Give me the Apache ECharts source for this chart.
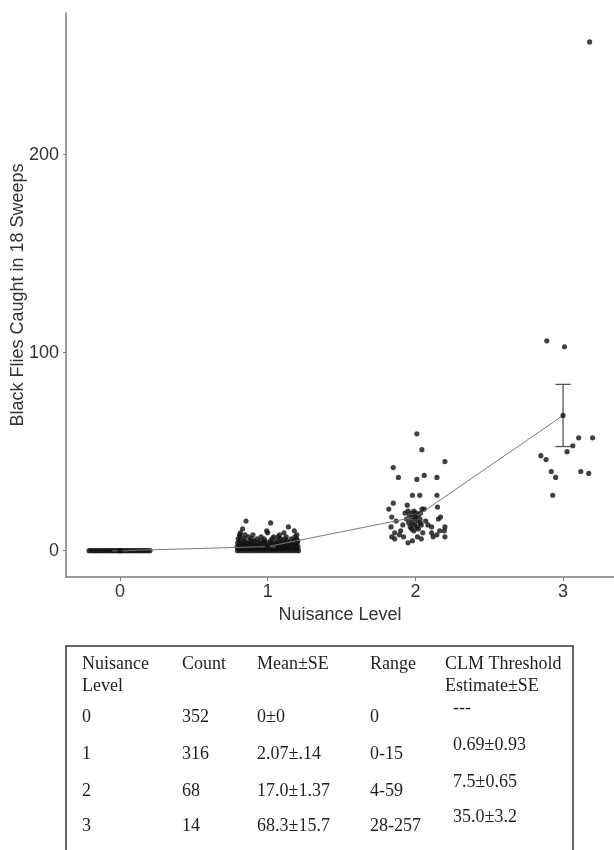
<!DOCTYPE html>
<html><head><meta charset="utf-8">
<script src="https://cdn.jsdelivr.net/npm/echarts@6/dist/echarts.min.js"></script>
<style>html,body{margin:0;padding:0;background:#fff}#c{width:614px;height:850px}</style>
</head><body><div id="c"></div>
<script>
// ---------- data ----------
const levels = [0, 1, 2, 3];
const levelMeans = [0, 2.07, 17.0, 68.3];
const levelSE = [0, 0.14, 1.37, 15.7];
const xTicks = [0, 1, 2, 3];
const yTicks = [0, 100, 200];

// jittered observations: [horizontal jitter, flies caught]
const level0Points = [
  [-0.21,0],[-0.197,0],[-0.183,0],[-0.17,0],[-0.158,0],[-0.145,0],[-0.131,0],[-0.12,0],[-0.106,0],[-0.093,0],
  [-0.081,0],[-0.068,0],[-0.055,0],[-0.043,0],[-0.03,0],[-0.017,0],[-0.004,0],[0.009,0],[0.022,0],[0.035,0],
  [0.048,0],[0.06,0],[0.073,0],[0.087,0],[0.1,0],[0.112,0],[0.126,0],[0.139,0],[0.151,0],[0.164,0],
  [0.177,0],[0.19,0],[0.203,0]
];
const level1Points = [
  [-0.205,0],[-0.185,0],[-0.165,0],[-0.145,0],[-0.125,0],[-0.105,0],[-0.085,0],[-0.065,0],[-0.045,0],[-0.025,0],[-0.005,0],
  [0.015,0],[0.035,0],[0.055,0],[0.075,0],[0.095,0],[0.115,0],[0.135,0],[0.155,0],[0.175,0],[0.195,0],[0.208,0],
  [-0.2,1],[-0.178,1],[-0.156,1],[-0.134,1],[-0.112,1],[-0.09,1],[-0.068,1],[-0.046,1],[-0.024,1],[-0.002,1],
  [0.02,1],[0.042,1],[0.064,1],[0.086,1],[0.108,1],[0.13,1],[0.152,1],[0.174,1],[0.196,1],
  [-0.207,2],[-0.186,2],[-0.162,2],[-0.141,2],[-0.118,2],[-0.097,2],[-0.075,2],[-0.051,2],[-0.03,2],[-0.008,2],
  [0.013,2],[0.036,2],[0.058,2],[0.08,2],[0.101,2],[0.124,2],[0.146,2],[0.168,2],[0.19,2],[0.205,2],
  [-0.196,3],[-0.172,3],[-0.15,3],[-0.127,3],[-0.104,3],[-0.081,3],[-0.057,3],[-0.034,3],[-0.012,3],
  [0.011,3],[0.033,3],[0.057,3],[0.079,3],[0.103,3],[0.125,3],[0.149,3],[0.171,3],[0.194,3],
  [-0.203,4],[-0.177,4],[-0.148,4],[-0.12,4],[-0.093,4],[-0.064,4],[-0.031,4],[-0.005,4],
  [0.026,4],[0.052,4],[0.083,4],[0.112,4],[0.141,4],[0.168,4],[0.2,4],
  [-0.19,5],[-0.158,5],[-0.122,5],[-0.09,5],[-0.051,5],[-0.02,5],[0.018,5],[0.061,5],[0.095,5],[0.132,5],[0.177,5],[0.203,5],
  [-0.2,6],[-0.162,6],[-0.11,6],[-0.072,6],[-0.025,6],[0.03,6],[0.087,6],[0.117,6],[0.16,6],[0.196,6],
  [-0.187,7],[-0.13,7],[-0.045,7],[0.04,7],[0.07,7],[0.125,7],[0.185,7],
  [-0.19,8],[-0.154,8],[-0.1,8],[0.08,8],[0.197,8],
  [-0.185,9],[0.0,9],[0.11,9],
  [-0.007,10],[0.18,10],
  [-0.17,11],[0.14,12],[0.02,14],[-0.147,15]
];
const level2Points = [
  [0.01,59],[0.044,51],[0.2,45],[-0.15,42],[-0.115,37],[0.01,36],[0.06,38],[0.146,37],[-0.02,28],[0.03,28],
  [0.146,28],[-0.15,24],[-0.055,23],[-0.18,21],[0.15,22],[0.06,21],[-0.16,17],[-0.13,15],[0.17,17],[0.156,16],
  [-0.165,12],[-0.085,13],[0.034,14],[0.11,12],[0.2,12],[0.196,10],[-0.1,10],[-0.14,9],[-0.16,7],[-0.14,6],
  [-0.108,8],[-0.08,7],[-0.05,4],[-0.02,5],[0.014,7],[0.04,6],[0.05,9],[0.11,9],[0.145,8],[0.12,7],
  [0.2,7],[0.165,10],
  [-0.04,18],[-0.025,19],[-0.01,20],[0.005,19],[0.02,18],[0.035,19],[-0.03,16],[-0.015,17],[0.0,16],[0.015,15],
  [0.03,16],[-0.045,14],[-0.02,14],[-0.005,13],[0.01,12],[-0.035,12],[-0.025,11],[-0.01,10],[0.02,11],[0.04,13],
  [-0.05,20],[0.045,21],[-0.06,16],[0.07,15],[0.085,13],[-0.07,19]
];
const level3Points = [
  [-0.11,106],[0.01,103],[0.106,57],[0.2,57],[0.066,53],[0.027,50],[-0.15,48],[-0.115,46],
  [-0.08,40],[-0.05,37],[0.12,40],[0.174,39],[-0.07,28],[0.18,257]
];

// table
const headerLine1 = ["Nuisance", "Count", "Mean\u00b1SE", "Range", "CLM Threshold"];
const headerLine2 = ["Level", "", "", "", "Estimate\u00b1SE"];
const tableLevels = ["0", "1", "2", "3"];
const tableCounts = ["352", "316", "68", "14"];
const tableMeanSE = ["0\u00b10", "2.07\u00b1.14", "17.0\u00b11.37", "68.3\u00b115.7"];
const tableRanges = ["0", "0-15", "4-59", "28-257"];
const tableCLM = ["---", "0.69\u00b10.93", "7.5\u00b10.65", "35.0\u00b13.2"];

// ---------- chart ----------
const chart = echarts.init(document.getElementById('c'), null, {renderer: 'canvas'});
const place = (lvl, pts) => pts.map(p => [lvl + p[0], p[1]]);
const allPoints = [].concat(
  place(0, level0Points), place(1, level1Points), place(2, level2Points), place(3, level3Points)
);
const meanData = levels.map((l, i) => [l, levelMeans[i]]);
const errData = levels.map((l, i) => [l, levelMeans[i] - levelSE[i], levelMeans[i] + levelSE[i]]);

const axisColor = '#7c7c7c';
const textColor = '#333333';
const sans = '"Liberation Sans", Arial, sans-serif';
const serif = '"Liberation Serif", "Times New Roman", serif';

// table graphics
const colX = [82, 182, 257, 370, 445];
const clmValueX = 453;
const headY1 = 664, headY2 = 686;
const rowY = [717, 754, 791, 826];
const tStyle = (t, x, y) => ({
  type: 'text', x: x, y: y,
  style: {text: t, fontSize: 18, fontFamily: serif, fill: '#1f1f1f', verticalAlign: 'middle', align: 'left'}
});
const graphics = [{
  type: 'rect', shape: {x: 66, y: 646, width: 507, height: 260},
  style: {fill: 'none', stroke: '#333', lineWidth: 1.5}
}];
headerLine1.forEach((t, i) => graphics.push(tStyle(t, colX[i], headY1)));
headerLine2.forEach((t, i) => { if (t) graphics.push(tStyle(t, colX[i], headY2)); });
tableLevels.forEach((t, r) => {
  graphics.push(tStyle(t, colX[0], rowY[r]));
  graphics.push(tStyle(tableCounts[r], colX[1], rowY[r]));
  graphics.push(tStyle(tableMeanSE[r], colX[2], rowY[r]));
  graphics.push(tStyle(tableRanges[r], colX[3], rowY[r]));
  graphics.push(tStyle(tableCLM[r], clmValueX, rowY[r] - 9));
});

chart.setOption({
  animation: false,
  backgroundColor: '#fff',
  grid: {left: 66, top: 13, right: 0, bottom: 273, containLabel: false, outerBoundsMode: 'none'},
  xAxis: {
    type: 'value', min: -0.366, max: 3.345,
    axisLine: {show: true, onZero: false, lineStyle: {color: axisColor, width: 1.5}},
    axisTick: {show: true, customValues: xTicks, length: 4, lineStyle: {color: axisColor, width: 1}},
    axisLabel: {customValues: xTicks, fontSize: 18, color: textColor, margin: 6, fontFamily: sans},
    splitLine: {show: false},
    name: 'Nuisance Level', nameLocation: 'middle', nameGap: 29, nameMoveOverlap: false,
    nameTextStyle: {fontSize: 18, color: textColor, fontFamily: sans}
  },
  yAxis: {
    type: 'value', min: -13.3, max: 271.6,
    axisLine: {show: true, onZero: false, lineStyle: {color: axisColor, width: 1.5}},
    axisTick: {show: true, customValues: yTicks, length: 3, lineStyle: {color: axisColor, width: 1}},
    axisLabel: {customValues: yTicks, fontSize: 18, color: textColor, margin: 7, fontFamily: sans},
    splitLine: {show: false},
    name: 'Black Flies Caught in 18 Sweeps', nameLocation: 'middle', nameGap: 39, nameMoveOverlap: false,
    nameTextStyle: {fontSize: 18, color: textColor, fontFamily: sans}
  },
  series: [
    {
      type: 'scatter', data: allPoints, symbolSize: 5.2,
      itemStyle: {color: '#111111'}, z: 2
    },
    {
      type: 'line', data: meanData, symbol: 'none',
      lineStyle: {color: '#7a7a7a', width: 1}, z: 3
    },
    {
      type: 'custom', data: errData, z: 4,
      renderItem: (params, api) => {
        const x = api.value(0), lo = api.value(1), hi = api.value(2);
        const pHi = api.coord([x, hi]), pLo = api.coord([x, lo]);
        const half = api.size([0.052, 0])[0];
        const st = {stroke: '#555555', lineWidth: 1.3};
        return {type: 'group', children: [
          {type: 'line', shape: {x1: pHi[0], y1: pHi[1], x2: pLo[0], y2: pLo[1]}, style: st},
          {type: 'line', shape: {x1: pHi[0] - half, y1: pHi[1], x2: pHi[0] + half, y2: pHi[1]}, style: st},
          {type: 'line', shape: {x1: pLo[0] - half, y1: pLo[1], x2: pLo[0] + half, y2: pLo[1]}, style: st}
        ]};
      }
    },
    {
      type: 'scatter', data: meanData, symbolSize: 5.2,
      itemStyle: {color: '#111111'}, z: 5
    }
  ],
  graphic: graphics
});
</script>
</body></html>
